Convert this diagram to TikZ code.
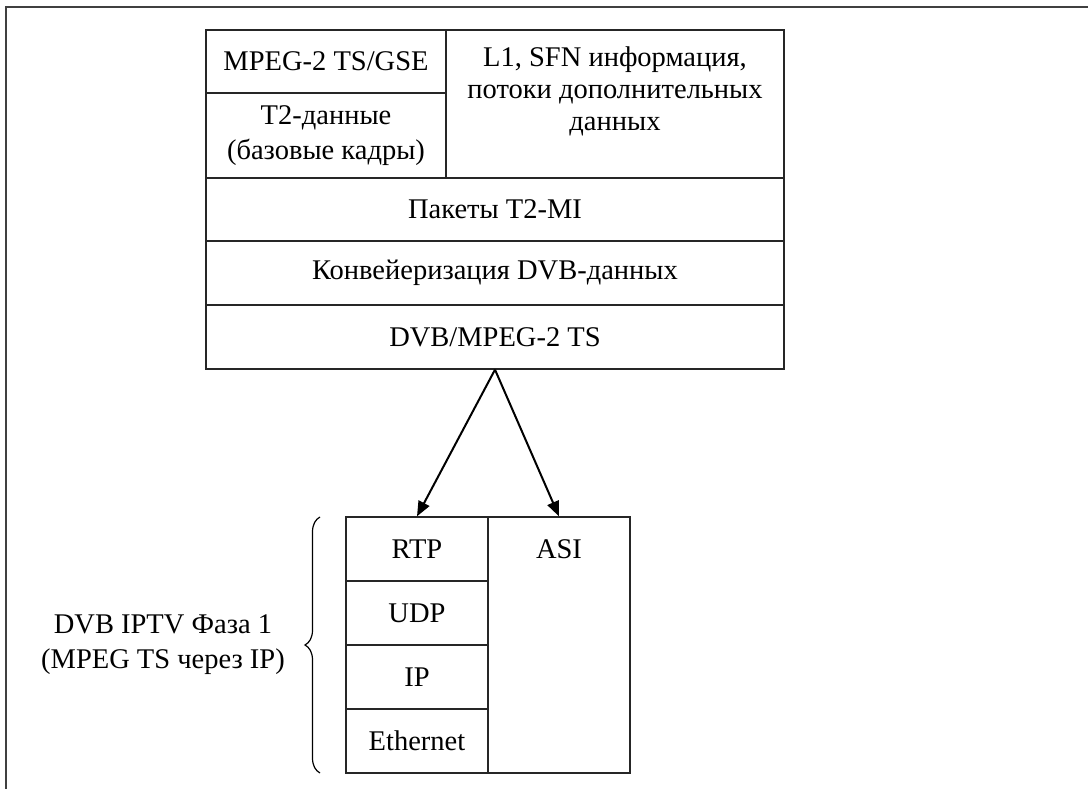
\documentclass[tikz,border=0pt]{standalone}
\usepackage{fontspec}
\setmainfont{Liberation Serif}
\usetikzlibrary{arrows.meta,decorations.pathreplacing}
\begin{document}
\begin{tikzpicture}[x=1pt,y=-1pt,
  cell/.style={draw=black!85,line width=1.3pt,rectangle,inner sep=0pt,align=center,font=\fontsize{28.5}{32}\selectfont},
  txt/.style={inner sep=0pt,align=center,font=\fontsize{28.5}{32}\selectfont},
  frameline/.style={draw=black!75,line width=2pt},
  arr/.style={line width=2pt,-{Triangle[length=15pt,width=12pt]}}]
\useasboundingbox (0,0) rectangle (1088,789);
% outer frame
\coordinate (ftl) at (6,7);
\coordinate (ftr) at (1088,7);
\coordinate (fbl) at (6,789);
\draw[frameline] (ftr) -- (ftl) -- (fbl);
% top stack
\node[cell,minimum width=240pt,minimum height=63pt] (mpeg) at (326,61.5) {MPEG-2 TS/GSE};
\node[cell,minimum width=240pt,minimum height=85pt] (t2) at (326,135.5) {T2-данные\\[3pt](базовые кадры)};
\node[cell,minimum width=338pt,minimum height=148pt] (l1) at (615,104) {};
\node[txt] (l1t) at (615,91) {L1, SFN информация,\\потоки дополнительных\\данных};
\node[cell,minimum width=578pt,minimum height=63pt] (pak) at (495,209.5) {Пакеты T2-MI};
\node[cell,minimum width=578pt,minimum height=64pt] (konv) at (495,273) {Конвейеризация DVB-данных};
\node[cell,minimum width=578pt,minimum height=64pt] (dvb) at (495,337) {DVB/MPEG-2 TS};
% bottom stack
\node[cell,minimum width=142pt,minimum height=64pt] (rtp) at (417,549) {RTP};
\node[cell,minimum width=142pt,minimum height=64pt] (udp) at (417,613) {UDP};
\node[cell,minimum width=142pt,minimum height=64pt] (ip) at (417,677) {IP};
\node[cell,minimum width=142pt,minimum height=64pt] (eth) at (417,741) {Ethernet};
\node[cell,minimum width=142pt,minimum height=256pt] (asi) at (559,645) {};
\node[txt] (asit) at (559,549) {ASI};
% arrows
\draw[arr] (dvb.south) -- (rtp.north);
\draw[arr] (dvb.south) -- (asi.north);
% brace and label
\coordinate (bt) at (320,517);
\coordinate (bb) at (320,773);
\draw[line width=1.2pt,decorate,decoration={brace,amplitude=15pt}] (bb) -- (bt);
\node[txt] (lbl) at (163,645) {DVB IPTV Фаза 1\\[3pt](MPEG TS через IP)};
\end{tikzpicture}
\end{document}
